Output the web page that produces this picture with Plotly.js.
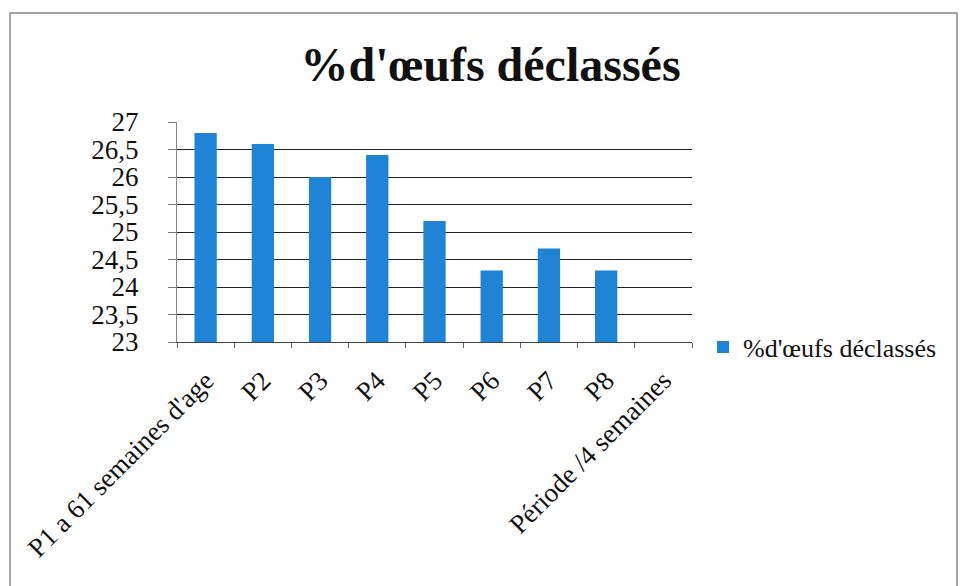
<!DOCTYPE html>
<html>
<head>
<meta charset="utf-8">
<script src="https://cdn.plot.ly/plotly-3.0.1.min.js"></script>
<style>body{margin:0;background:#fff}#chart{width:960px;height:586px}</style>
</head>
<body>
<div id="chart"></div>
<script>
var categories = ["P1 a 61 semaines d'age", "P2", "P3", "P4", "P5", "P6", "P7", "P8", "Période /4 semaines"];
var values = [26.8, 26.6, 26.0, 26.4, 25.2, 24.3, 24.7, 24.3, null];
var seriesName = "%d'œufs déclassés";
var titleText = "%d'œufs déclassés";

var L = 177, R = 692, T = 122, B = 342;
var W = R - L, H = B - T;
function px(x){ return (x - L) / W; }
function py(y){ return (B - y) / H; }
var FONT = "'Liberation Serif', 'Times New Roman', serif";

var trace = {
  type: 'bar',
  x: categories,
  y: values,
  name: seriesName,
  marker: {color: '#1f84d6'},
  showlegend: true
};

var layout = {
  width: 960, height: 586,
  margin: {l: L, r: 960 - R, t: T, b: 586 - B},
  paper_bgcolor: '#fff', plot_bgcolor: '#fff',
  separators: ', ',
  font: {family: FONT, color: '#111'},
  title: {text: '<b>' + titleText + '</b>', font: {size: 48, family: FONT, color: '#111'}, x: 0.511, xanchor: 'center', xref: 'container', y: 0.891, yanchor: 'middle', yref: 'container'},
  bargap: 0.61,
  xaxis: {
    type: 'category',
    tickangle: -45,
    tickfont: {size: 27, family: FONT},
    ticklabelstandoff: 11,
    showline: true, linecolor: '#444', linewidth: 1,
    ticks: 'outside', ticklen: 5, tickcolor: '#666',
    tickson: 'boundaries',
    showgrid: false,
    range: [-0.5, 8.5]
  },
  yaxis: {
    range: [23, 27],
    dtick: 0.5, tick0: 23,
    tickfont: {size: 27, family: FONT},
    ticklabelstandoff: 24,
    showline: true, linecolor: '#888', linewidth: 1,
    ticks: 'outside', ticklen: 8, tickcolor: '#777',
    showgrid: true, gridcolor: '#222', gridwidth: 1,
    zeroline: false
  },
  legend: {
    x: px(703), xanchor: 'left', y: py(347), yanchor: 'middle',
    font: {size: 26, family: FONT}, bgcolor: 'rgba(0,0,0,0)'
  },
  shapes: [{
    type: 'rect', xref: 'paper', yref: 'paper',
    x0: px(10), x1: px(957), y0: py(620), y1: py(13),
    line: {color: '#888', width: 1.5}
  }]
};

Plotly.newPlot('chart', [trace], layout, {displayModeBar: false, staticPlot: true});
</script>
</body>
</html>
